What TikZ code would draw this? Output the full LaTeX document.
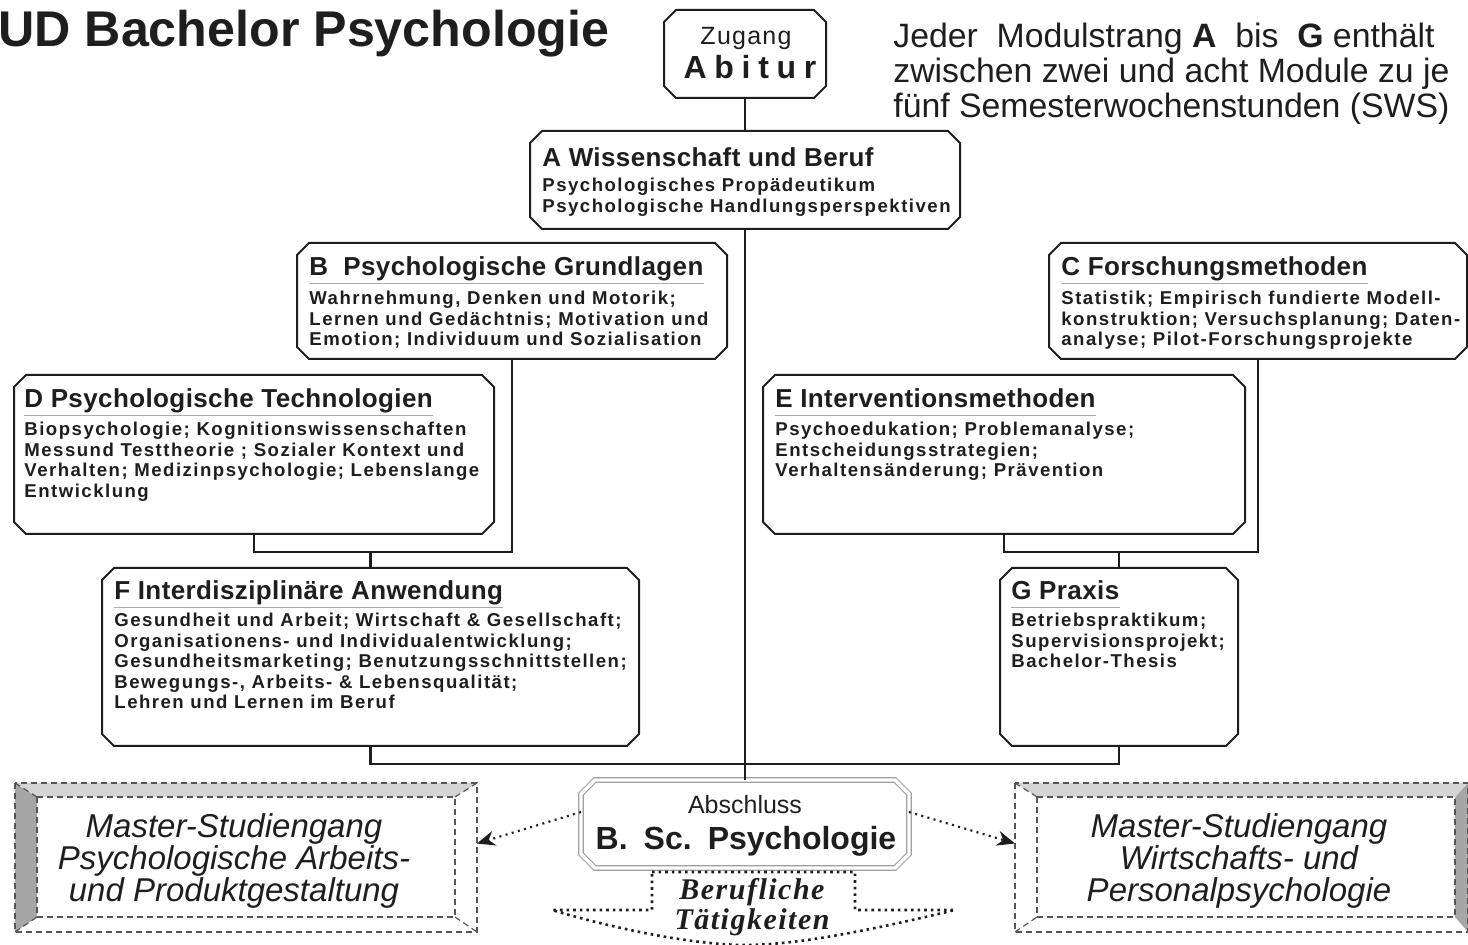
\documentclass[tikz,border=0pt]{standalone}
\usepackage{fontspec}
\setmainfont{Liberation Sans}
\newfontfamily\bodyfont[LetterSpace=8]{Liberation Sans}
\newfontfamily\headfont[LetterSpace=1.5]{Liberation Sans}
\newfontfamily\abifont[LetterSpace=24]{Liberation Sans}
\newfontfamily\zugfont[LetterSpace=5]{Liberation Sans}
\newfontfamily\berfont[LetterSpace=5]{Liberation Serif}
\usetikzlibrary{fit,arrows.meta}
\definecolor{ink}{HTML}{1E1E1E}
\definecolor{bevdark}{HTML}{A6A6A6}
\definecolor{bevlight}{HTML}{D4D4D4}
\definecolor{dashgray}{HTML}{555555}

\newcommand\octbox[3][octline]{%
 \draw[#1] ([xshift=#3]#2.north west) -- ([xshift=-#3]#2.north east) -- ([yshift=-#3]#2.north east) -- ([yshift=#3]#2.south east) -- ([xshift=-#3]#2.south east) -- ([xshift=#3]#2.south west) -- ([yshift=#3]#2.south west) -- ([yshift=-#3]#2.north west) -- cycle;}

\tikzset{
 frame/.style={inner sep=0pt, outer sep=0pt},
 octline/.style={draw=ink, line width=1pt},
 absline/.style={draw=gray!75, line width=0.6pt, double=white, double distance=1.6pt},
 conn/.style={draw=ink, line width=1.1pt},
 head/.style={font=\headfont\bfseries\fontsize{13}{15}\selectfont, text=ink, inner sep=0pt, anchor=base west},
 body/.style={font=\bodyfont\bfseries\fontsize{9.3}{10.2}\selectfont, text=ink, inner sep=0pt, anchor=north west, align=left},
 uline/.style={draw=gray!65, line width=0.6pt},
 mdash/.style={draw=dashgray, line width=0.6pt, dash pattern=on 3pt off 2pt},
 mtext/.style={font=\itshape\fontsize{16.5}{16}\selectfont, text=ink, align=center, inner sep=0pt},
 dotarrow/.style={draw=ink, line width=1.1pt, dash pattern=on 1pt off 2.2pt, -{Stealth[length=9pt,width=7.5pt]}},
 berline/.style={draw=ink, line width=1.3pt, dash pattern=on 1.3pt off 2pt},
 berf/.style={font=\berfont\bfseries\itshape\fontsize{15}{15}\selectfont, text=ink, align=center, inner sep=0pt},
 plain/.style={text=ink, inner sep=0pt},
}

\begin{document}
\begin{tikzpicture}[x=0.5pt,y=-0.5pt]
\useasboundingbox (0,0) rectangle (1468,945);

% title and note
\node[plain, font=\bfseries\fontsize{25.1}{28}\selectfont, anchor=base west] (title) at (-2,47) {UD Bachelor Psychologie};
\node[plain, font=\fontsize{16.9}{17.5}\selectfont, anchor=north west, align=left] (note) at (893,23) {Jeder\ \ Modulstrang \textbf{A}\ \ bis\ \ \textbf{G} enthält\\zwischen zwei und acht Module zu je\\fünf Semesterwochenstunden (SWS)};

% Zugang
\node[frame, fit={(664,10) (826,98)}] (Zug) {};
\octbox{Zug}{6pt}
\node[plain, font=\zugfont\fontsize{12.5}{14}\selectfont, anchor=base] (ZugT) at (746,45) {Zugang};
\node[plain, font=\abifont\bfseries\fontsize{16}{18}\selectfont, anchor=base] (AbiT) at (750,79) {Abitur};

% boxes
\node[frame, fit={(530,131) (960,229)}] (A) {};
\node[frame, fit={(297,243) (727,359)}] (B) {};
\node[frame, fit={(1049,243) (1467,359)}] (C) {};
\node[frame, fit={(14,375) (494,534)}] (D) {};
\node[frame, fit={(763,375) (1245,534)}] (E) {};
\node[frame, fit={(102,568) (639,746)}] (F) {};
\node[frame, fit={(1000,568) (1238,746)}] (G) {};
\foreach \b in {A,B,C,D,E,F,G} {\octbox{\b}{6pt}}

\node[head] (Ah) at (542,167) {A Wissenschaft und Beruf};
\node[body] (Ab) at (542,178) {Psychologisches Propädeutikum\\Psychologische Handlungsperspektiven};

\node[head] (Bh) at (309,276) {B\ \ Psychologische Grundlagen};
\node[body] (Bb) at (309,291) {Wahrnehmung, Denken und Motorik;\\Lernen und Gedächtnis; Motivation und\\Emotion; Individuum und Sozialisation};

\node[head] (Ch) at (1061,276) {C Forschungsmethoden};
\node[body] (Cb) at (1061,291) {Statistik; Empirisch fundierte Modell-\\konstruktion; Versuchsplanung; Daten-\\analyse; Pilot-Forschungsprojekte};

\node[head] (Dh) at (24,408) {D Psychologische Technologien};
\node[body] (Db) at (24,422) {Biopsychologie; Kognitionswissenschaften\\Messund Testtheorie ; Sozialer Kontext und\\Verhalten; Medizinpsychologie; Lebenslange\\Entwicklung};

\node[head] (Eh) at (775,408) {E Interventionsmethoden};
\node[body] (Eb) at (775,422) {Psychoedukation; Problemanalyse;\\Entscheidungsstrategien;\\Verhaltensänderung; Prävention};

\node[head] (Fh) at (114,600) {F Interdisziplinäre Anwendung};
\node[body] (Fb) at (114,613) {Gesundheit und Arbeit; Wirtschaft \& Gesellschaft;\\Organisationens- und Individualentwicklung;\\Gesundheitsmarketing; Benutzungsschnittstellen;\\Bewegungs-, Arbeits- \& Lebensqualität;\\Lehren und Lernen im Beruf};

\node[head] (Gh) at (1011,600) {G Praxis};
\node[body] (Gb) at (1011,613) {Betriebspraktikum;\\Supervisionsprojekt;\\Bachelor-Thesis};

\foreach \h in {Bh,Ch,Dh,Eh,Fh,Gh} {\draw[uline] ([yshift=-3.6pt]\h.base west) -- ([yshift=-3.6pt]\h.base east);}

% Abschluss
\node[frame, fit={(581,780) (909,868)}] (Abs) {};
\octbox[absline]{Abs}{7pt}
\node[plain, font=\fontsize{12.5}{14}\selectfont, anchor=base] (AbsT) at (745,814) {Abschluss};
\node[plain, font=\bfseries\fontsize{16}{18}\selectfont, anchor=base] (AbsB) at (746,850) {B.\hspace{8pt}Sc.\hspace{8pt}Psychologie};

% connectors
\coordinate (midL) at (0,552);
\coordinate (bot) at (0,764);
\draw[conn] (Zug.south) -- (A.north);
\draw[conn] (A.south) -- (Abs.north);
\draw[conn] (B.south) |- (D.south |- midL) -- (D.south);
\draw[conn] (F.north) -- (F.north |- midL);
\draw[conn] (C.south) |- (E.south |- midL) -- (E.south);
\draw[conn] (G.north) -- (G.north |- midL);
\draw[conn] (F.south) |- (G.south |- bot) -- (G.south);

% master boxes
\node[frame, fit={(15,783) (477,932)}] (ML) {};
\node[frame, fit={(1015,783) (1468,932)}] (MR) {};
\fill[bevdark] (15,783) -- (37,797) -- (37,917) -- (15,932) -- cycle;
\fill[bevlight] (15,783) -- (477,783) -- (455,797) -- (37,797) -- cycle;
\draw[mdash] (ML.north west) rectangle (ML.south east);
\draw[mdash] (37,797) rectangle (455,917);
\draw[mdash] (15,783) -- (37,797) (477,783) -- (455,797) (455,917) -- (477,932) (15,932) -- (37,917);

\fill[bevdark] (1468,783) -- (1455,797) -- (1455,917) -- (1468,932) -- cycle;
\fill[bevlight] (1015,783) -- (1468,783) -- (1455,797) -- (1037,797) -- cycle;
\draw[mdash] (MR.north west) rectangle (MR.south east);
\draw[mdash] (1037,797) rectangle (1455,917);
\draw[mdash] (1015,783) -- (1037,797) (1015,932) -- (1037,917);

\node[mtext] (MLt) at (234,861) {Master-Studiengang\\Psychologische Arbeits-\\und Produktgestaltung};
\node[mtext] (MRt) at (1239,861) {Master-Studiengang\\Wirtschafts- und\\Personalpsychologie};

\draw[dotarrow] ([yshift=6pt]Abs.west) -- ([yshift=7pt]ML.east);
\draw[dotarrow] ([yshift=6pt]Abs.east) -- ([yshift=7pt]MR.west);

% Berufliche Taetigkeiten
\draw[berline] (652,872) -- (855,872) -- (855,910) -- (955,910) .. controls (880,928) and (800,945) .. (746,945) .. controls (692,945) and (612,928) .. (552,910) -- (652,910) -- cycle;
\node[berf, anchor=north] (BT) at (752,878) {Berufliche\\Tätigkeiten};
\end{tikzpicture}
\end{document}
